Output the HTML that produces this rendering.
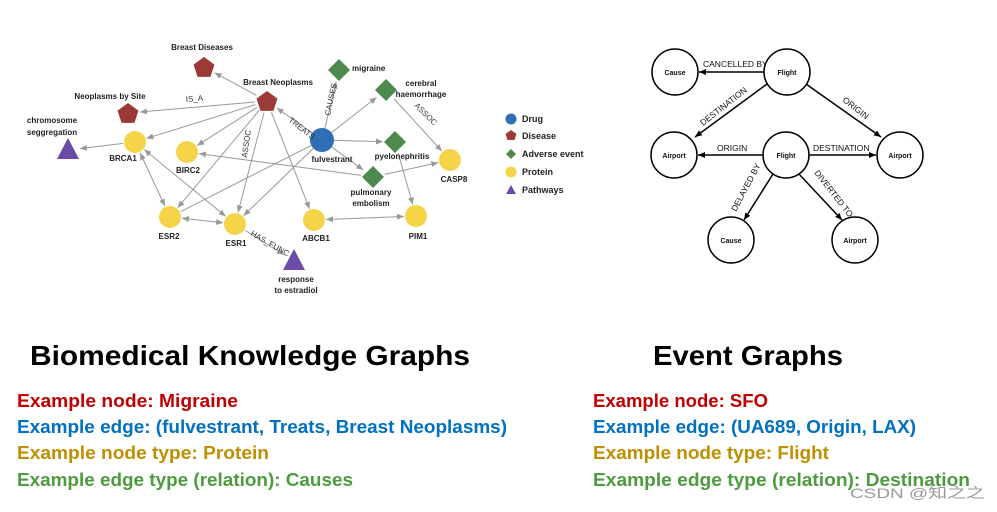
<!DOCTYPE html>
<html><head><meta charset="utf-8"><style>
html,body{margin:0;padding:0;background:#fff}
svg{display:block}
.n{font-family:"Liberation Sans",sans-serif;font-size:8px;font-weight:bold;fill:#222;text-anchor:middle}
.e{font-family:"Liberation Sans",sans-serif;font-size:8px;fill:#333}
.lg{font-family:"Liberation Sans",sans-serif;font-size:9px;font-weight:bold;fill:#222}
.r{font-family:"Liberation Sans",sans-serif;font-size:7px;font-weight:bold;fill:#111;text-anchor:middle}
.re{font-family:"Liberation Sans",sans-serif;font-size:8.5px;fill:#111}
.t{font-family:"Liberation Sans",sans-serif;font-weight:bold;font-size:28px;fill:#000}
.x{font-family:"Liberation Sans",sans-serif;font-weight:bold;font-size:18px}
</style></head><body>
<svg id="s" width="997" height="512" viewBox="0 0 997 512" xmlns="http://www.w3.org/2000/svg">
<defs>
<marker id="ag" markerWidth="8" markerHeight="8" refX="7" refY="3" orient="auto" markerUnits="userSpaceOnUse"><path d="M0,0 L7,3 L0,6 z" fill="#999"/></marker>
<marker id="agr" markerWidth="8" markerHeight="8" refX="0" refY="3" orient="auto" markerUnits="userSpaceOnUse"><path d="M7,0 L0,3 L7,6 z" fill="#999"/></marker>
<marker id="ab" markerWidth="8" markerHeight="8" refX="7" refY="3" orient="auto" markerUnits="userSpaceOnUse"><path d="M0,0 L7,3 L0,6 z" fill="#000"/></marker>
</defs>
<g id="edges"></g>
<g id="nodes"></g>
<text class="n" x="202" y="50">Breast Diseases</text>
<text class="n" x="278" y="85">Breast Neoplasms</text>
<text class="n" x="110" y="99">Neoplasms by Site</text>
<text class="n" x="52" y="123">chromosome</text>
<text class="n" x="52" y="135">seggregation</text>
<text class="n" x="123" y="161">BRCA1</text>
<text class="n" x="188" y="173">BIRC2</text>
<text class="n" x="332" y="162">fulvestrant</text>
<text class="n" x="352" y="71" style="text-anchor:start">migraine</text>
<text class="n" x="421" y="86">cerebral</text>
<text class="n" x="421" y="97">haemorrhage</text>
<text class="n" x="402" y="159">pyelonephritis</text>
<text class="n" x="371" y="195">pulmonary</text>
<text class="n" x="371" y="206">embolism</text>
<text class="n" x="454" y="182">CASP8</text>
<text class="n" x="169" y="239">ESR2</text>
<text class="n" x="236" y="246">ESR1</text>
<text class="n" x="316" y="241">ABCB1</text>
<text class="n" x="418" y="239">PIM1</text>
<text class="n" x="296" y="282">response</text>
<text class="n" x="296" y="293">to estradiol</text>
<text class="e" x="186" y="102" transform="rotate(-5 186 102)">IS_A</text>
<text class="e" x="288" y="121" transform="rotate(38 288 121)">TREATS</text>
<text class="e" x="330" y="116" transform="rotate(-78 330 116)">CAUSES</text>
<text class="e" x="247" y="158" transform="rotate(-82 247 158)">ASSOC</text>
<text class="e" x="414" y="106" transform="rotate(45 414 106)">ASSOC</text>
<text class="e" x="250" y="235" transform="rotate(30 250 235)">HAS_FUNC</text>
<circle cx="511" cy="119" r="5.5" fill="#2f6fb5"/><text class="lg" x="522" y="122">Drug</text>
<polygon points="511,130 516.5,134 514.5,140 507.5,140 505.5,134" fill="#9b3a36"/><text class="lg" x="522" y="139">Disease</text>
<polygon points="511,149 516,154 511,159 506,154" fill="#4e8a4e"/><text class="lg" x="522" y="157">Adverse event</text>
<circle cx="511" cy="172" r="5.5" fill="#f6d44a"/><text class="lg" x="522" y="175">Protein</text>
<polygon points="511,185 516,194 506,194" fill="#6b4aa8"/><text class="lg" x="522" y="193">Pathways</text>
<g fill="#fff" stroke="#000" stroke-width="1.5">
<circle cx="675" cy="72" r="23"/><circle cx="787" cy="72" r="23"/>
<circle cx="674" cy="155" r="23"/><circle cx="786" cy="155" r="23"/><circle cx="900" cy="155" r="23"/>
<circle cx="731" cy="240" r="23"/><circle cx="855" cy="240" r="23"/>
</g>
<g stroke="#000" stroke-width="1.5" marker-end="url(#ab)">
<line x1="764" y1="72" x2="699" y2="72"/>
<line x1="767" y1="84" x2="695" y2="137"/>
<line x1="806" y1="84" x2="881" y2="137"/>
<line x1="763" y1="155" x2="698" y2="155"/>
<line x1="809" y1="155" x2="876" y2="155"/>
<line x1="773" y1="174" x2="744" y2="220"/>
<line x1="799" y1="174" x2="842" y2="220"/>
</g>
<text class="r" x="675" y="75">Cause</text><text class="r" x="787" y="75">Flight</text>
<text class="r" x="674" y="158">Airport</text><text class="r" x="786" y="158">Flight</text><text class="r" x="900" y="158">Airport</text>
<text class="r" x="731" y="243">Cause</text><text class="r" x="855" y="243">Airport</text>
<text class="re" x="703" y="67">CANCELLED BY</text>
<text class="re" x="703" y="126" transform="rotate(-38 703 126)">DESTINATION</text>
<text class="re" x="842" y="101" transform="rotate(38 842 101)">ORIGIN</text>
<text class="re" x="717" y="151">ORIGIN</text>
<text class="re" x="813" y="151">DESTINATION</text>
<text class="re" x="736" y="212" transform="rotate(-62 736 212)">DELAYED BY</text>
<text class="re" x="814" y="173" transform="rotate(52 814 173)">DIVERTED TO</text>
<text class="t" x="30" y="365" textLength="440" lengthAdjust="spacingAndGlyphs">Biomedical Knowledge Graphs</text>
<text class="t" x="653" y="365" textLength="190" lengthAdjust="spacingAndGlyphs">Event Graphs</text>
<text class="x" x="17" y="407" fill="#c00000" textLength="221" lengthAdjust="spacingAndGlyphs">Example node: Migraine</text>
<text class="x" x="17" y="433" fill="#0070c0" textLength="490" lengthAdjust="spacingAndGlyphs">Example edge: (fulvestrant, Treats, Breast Neoplasms)</text>
<text class="x" x="17" y="459" fill="#bf8f00" textLength="252" lengthAdjust="spacingAndGlyphs">Example node type: Protein</text>
<text class="x" x="17" y="486" fill="#4e9a3f" textLength="336" lengthAdjust="spacingAndGlyphs">Example edge type (relation): Causes</text>
<text class="x" x="593" y="407" fill="#c00000" textLength="175" lengthAdjust="spacingAndGlyphs">Example node: SFO</text>
<text class="x" x="593" y="433" fill="#0070c0" textLength="323" lengthAdjust="spacingAndGlyphs">Example edge: (UA689, Origin, LAX)</text>
<text class="x" x="593" y="459" fill="#bf8f00" textLength="236" lengthAdjust="spacingAndGlyphs">Example node type: Flight</text>
<text class="x" x="593" y="486" fill="#4e9a3f" textLength="377" lengthAdjust="spacingAndGlyphs">Example edge type (relation): Destination</text>
<text x="850" y="498" fill="#999" style="font-family:'Liberation Sans','Noto Sans CJK SC',sans-serif;font-size:14px" textLength="135" lengthAdjust="spacingAndGlyphs">CSDN @知之之</text>
</svg>
<script>
var N={bd:[204,67,'p'],bn:[267,101,'p'],ns:[128,113,'p'],ch:[68,150,'t'],br:[135,142,'c'],bi:[187,152,'c'],fu:[322,140,'d'],
mi:[339,70,'a'],ce:[386,90,'a'],py:[395,142,'a'],pu:[373,177,'a'],ca:[450,160,'c'],e2:[170,217,'c'],e1:[235,224,'c'],
ab:[314,220,'c'],pi:[416,216,'c'],re:[294,261,'t']};
var E=[['bn','bd',1],['bn','ns',1],['bn','br',1],['bn','bi',1],['bn','e2',1],['bn','e1',1],['bn','ab',1],['fu','bn',1],
['fu','mi',1],['fu','ce',1],['fu','py',1],['fu','pu',1],['fu','e2',0],['fu','e1',1],['ce','ca',1],['br','ch',1],
['br','e2',2],['br','e1',2],['e2','e1',2],['ab','pi',2],['pu','bi',1],['pu','ca',1],['py','pi',1],['e1','re',1]];
var ns='http://www.w3.org/2000/svg',ge=document.getElementById('edges'),gn=document.getElementById('nodes');
function el(t,a,p){var e=document.createElementNS(ns,t);for(var k in a)e.setAttribute(k,a[k]);p.appendChild(e);return e;}
E.forEach(function(e){var a=N[e[0]],b=N[e[1]],dx=b[0]-a[0],dy=b[1]-a[1],L=Math.hypot(dx,dy),ux=dx/L,uy=dy/L,r=12;
var at={x1:a[0]+ux*r,y1:a[1]+uy*r,x2:b[0]-ux*r,y2:b[1]-uy*r,stroke:'#999','stroke-width':1};
if(e[2]>=1)at['marker-end']='url(#ag)';if(e[2]==2)at['marker-start']='url(#agr)';el('line',at,ge);});
for(var k in N){var n=N[k],x=n[0],y=n[1];
if(n[2]=='c')el('circle',{cx:x,cy:y,r:11,fill:'#f6d44a'},gn);
else if(n[2]=='d')el('circle',{cx:x,cy:y,r:12,fill:'#2f6fb5'},gn);
else if(n[2]=='a')el('polygon',{points:[x,y-11,x+11,y,x,y+11,x-11,y].join(' '),fill:'#4e8a4e'},gn);
else if(n[2]=='t')el('polygon',{points:[x,y-12,x+11,y+9,x-11,y+9].join(' '),fill:'#6b4aa8'},gn);
else{var p=[];for(var i=0;i<5;i++){var t=-Math.PI/2+i*2*Math.PI/5;p.push(x+11*Math.cos(t),y+1+11*Math.sin(t));}el('polygon',{points:p.join(' '),fill:'#9b3a36'},gn);}}
</script>
</body></html>
